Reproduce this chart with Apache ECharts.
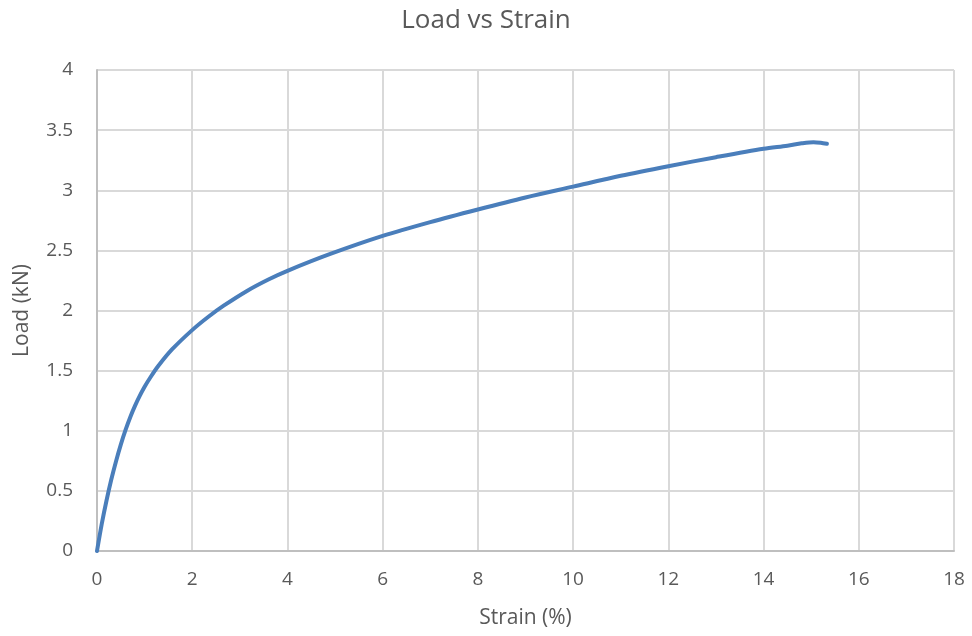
<!DOCTYPE html>
<html><head><meta charset="utf-8">
<script src="https://cdn.jsdelivr.net/npm/echarts@6/dist/echarts.min.js"></script>
<style>html,body{margin:0;padding:0;background:#fff}#c{width:972px;height:636px}</style>
</head><body><div id="c"></div>
<script>
const strain = [0, 0.1, 0.2, 0.3, 0.4, 0.5, 0.6, 0.7, 0.8, 0.9, 1.0, 1.12, 1.29, 1.575, 2.01, 2.34, 2.66, 3.15, 3.6, 4.0, 4.9, 6.0, 7.0, 8.0, 9.0, 10.0, 11.0, 12.0, 13.0, 14.0, 14.5, 14.8, 15.05, 15.2, 15.33];
const load   = [0, 0.225, 0.42, 0.594, 0.747, 0.885, 1.007, 1.115, 1.209, 1.292, 1.366, 1.443, 1.54, 1.676, 1.841, 1.948, 2.04, 2.163, 2.258, 2.33, 2.47, 2.62, 2.735, 2.84, 2.94, 3.03, 3.12, 3.20, 3.275, 3.345, 3.37, 3.39, 3.40, 3.395, 3.386];
const xTicks = [0, 2, 4, 6, 8, 10, 12, 14, 16, 18];
const yTicks = [0, 0.5, 1, 1.5, 2, 2.5, 3, 3.5, 4];

const chart = echarts.init(document.getElementById('c'), null, {renderer: 'canvas'});
const font = '"Open Sans", "Liberation Sans", sans-serif';
chart.setOption({
  animation: false,
  backgroundColor: '#fff',
  title: {
    text: 'Load vs Strain', left: 'center', top: 3,
    textStyle: {fontFamily: font, fontSize: 26, fontWeight: 'normal', color: '#595959'}
  },
  grid: {left: 97, right: 18, top: 70, bottom: 85},
  xAxis: {
    type: 'value', min: xTicks[0], max: xTicks[xTicks.length - 1], interval: 2,
    name: 'Strain (%)', nameLocation: 'middle', nameGap: 57,
    nameTextStyle: {fontFamily: font, fontSize: 21, color: '#595959'},
    axisLine: {show: true, lineStyle: {color: '#bfbfbf', width: 2}},
    axisTick: {show: false},
    axisLabel: {fontFamily: font, fontSize: 19, color: '#595959', margin: 19},
    splitLine: {show: true, lineStyle: {color: '#d9d9d9', width: 2}}
  },
  yAxis: {
    type: 'value', min: yTicks[0], max: yTicks[yTicks.length - 1], interval: 0.5,
    name: 'Load (kN)', nameLocation: 'middle', nameGap: 64, nameRotate: 90,
    nameTextStyle: {fontFamily: font, fontSize: 21, color: '#595959'},
    axisLine: {show: true, lineStyle: {color: '#bfbfbf', width: 2}},
    axisTick: {show: false},
    axisLabel: {fontFamily: font, fontSize: 19, color: '#595959', margin: 24},
    splitLine: {show: true, lineStyle: {color: '#d9d9d9', width: 2}}
  },
  series: [{
    type: 'line',
    data: strain.map((s, i) => [s, load[i]]),
    showSymbol: false, smooth: 0.3,
    lineStyle: {color: '#4A7EBB', width: 4, cap: 'round'}
  }]
});
</script></body></html>
